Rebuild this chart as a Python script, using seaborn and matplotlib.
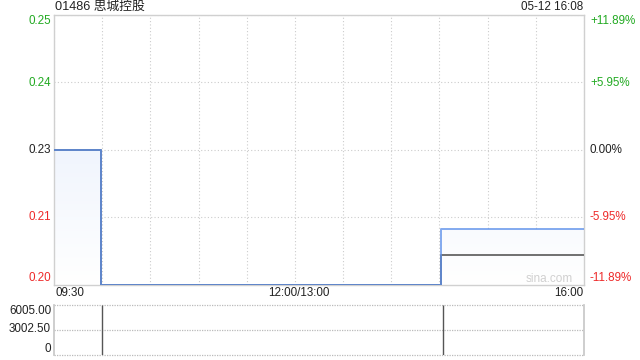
import numpy as np
import pandas as pd
import matplotlib
matplotlib.use("Agg")
import matplotlib.pyplot as plt
import seaborn as sns
from matplotlib.colors import LinearSegmentedColormap

# ---- data ----
title = "01486 思城控股"
stamp = "05-12 16:08"
minutes = [0, 29, 241, 330]              # minutes since 09:30 (trading time)
price = [0.23, 0.2027, 0.214, 0.214]
avg_price = [0.23, 0.2027, 0.2087, 0.2087]
vol_minutes = [30, 242]
volume = [6005, 6005]
prev_close = 0.23
pct_range = 0.1189
left_labels = ["0.20", "0.21", "0.23", "0.24", "0.25"]
right_labels = ["-11.89%", "-5.95%", "0.00%", "+5.95%", "+11.89%"]
x_labels = ["09:30", "12:00/13:00", "16:00"]
vol_labels = ["0", "3002.50", "6005.00"]
total_minutes = 330

sns.set_theme(style="white")
plt.rcParams["font.family"] = ["Liberation Sans", "Noto Sans CJK SC", "DejaVu Sans"]

W, H = 640, 360
fig = plt.figure(figsize=(6.4, 3.6), dpi=100)

def fx(x):
    return x / W

def fy(y):
    return 1 - y / H

L, R, T, B = 54, 584, 15, 285
ax = fig.add_axes([fx(L), fy(B), (R - L) / W, (B - T) / H])
vT, vB = 305, 355
vax = fig.add_axes([fx(L), fy(vB), (R - L) / W, (vB - vT) / H])

ymin = prev_close * (1 - pct_range)
ymax = prev_close * (1 + pct_range)
ax.set_xlim(0, total_minutes)
ax.set_ylim(ymin, ymax)

df = pd.DataFrame({"t": minutes, "price": price, "avg": avg_price})

# gradient fill under the price line
poly = ax.fill_between(df["t"], df["price"], ymin, step="post", color="none", lw=0)
grad = np.linspace(1, 0, 256).reshape(-1, 1)
cmap = LinearSegmentedColormap.from_list("g", ["#ffffff", "#e2ebfb"])
im = ax.imshow(grad, extent=[0, total_minutes, ymin, ymax], aspect="auto",
               cmap=cmap, origin="upper", zorder=1)
im.set_clip_path(poly.get_paths()[0], transform=ax.transData)

sns.lineplot(data=df, x="t", y="avg", ax=ax, drawstyle="steps-post",
             color="#707070", lw=1.4, zorder=3, sort=False)
sns.lineplot(data=df, x="t", y="price", ax=ax, drawstyle="steps-post",
             color="#5a8eea", lw=1.4, alpha=0.75, zorder=4, sort=False)

# grid
tick_pos = [prev_close * (1 + k * pct_range / 2) for k in (-2, -1, 0, 1, 2)]
ax.set_yticks(tick_pos)
ax.set_xticks(np.arange(0, total_minutes + 1, 30))
ax.grid(True, linestyle=(0, (1, 2)), color="#cccccc", lw=0.8, zorder=0)
ax.tick_params(left=False, bottom=False, labelleft=False, labelbottom=False)
ax.set_xlabel("")
ax.set_ylabel("")
for s in ax.spines.values():
    s.set_color("#d0d0d0")
    s.set_linewidth(1.0)

green, red, black = "#22aa22", "#ee2a2a", "#222222"
colors = [red, red, black, green, green]
for i, (lab, rl, c) in enumerate(zip(left_labels, right_labels, colors)):
    ypix = B - i * (B - T) / 4
    if i == 0:
        ypix -= 7
    elif i == 4:
        ypix += 6
    fig.text(fx(51), fy(ypix), lab, ha="right", va="center", fontsize=8.4, color=c)
    fig.text(fx(590), fy(ypix), rl, ha="left", va="center", fontsize=8.4, color=c)

fig.text(fx(55), fy(7), title, ha="left", va="center", fontsize=9.2, color="#222222")
fig.text(fx(583), fy(7), stamp, ha="right", va="center", fontsize=8.4, color="#222222")

fig.text(fx(55), fy(293), x_labels[0], ha="left", va="center", fontsize=8.4, color="#222222")
fig.text(fx(299), fy(293), x_labels[1], ha="center", va="center", fontsize=8.4, color="#222222")
fig.text(fx(583), fy(293), x_labels[2], ha="right", va="center", fontsize=8.4, color="#222222")

fig.text(fx(573), fy(279), "sina.com", ha="right", va="center", fontsize=8.5, color="#d0d0d0")

# volume panel
vmax = max(volume)
vax.set_xlim(0, total_minutes)
vax.set_ylim(0, vmax)
vax.vlines(vol_minutes, 0, volume, color="#555555", lw=1.0, zorder=3)
vax.set_yticks([0, vmax / 2, vmax])
vax.set_xticks([])
vax.grid(True, axis="y", linestyle=(0, (1, 1)), color="#bbbbbb", lw=0.9, zorder=0)
for g in vax.get_ygridlines():
    g.set_clip_on(False)
vax.tick_params(left=False, bottom=False, labelleft=False, labelbottom=False)
vax.spines["top"].set_visible(False)
vax.spines["bottom"].set_visible(False)
for k in ("left", "right"):
    vax.spines[k].set_color("#c8c8c8")
vol_ypix = [349, 329, 311]
for lab, yp in zip(vol_labels, vol_ypix):
    fig.text(fx(51), fy(yp), lab, ha="right", va="center", fontsize=8.4, color="#222222")

fig.savefig("out.png", dpi=100, facecolor="white")
